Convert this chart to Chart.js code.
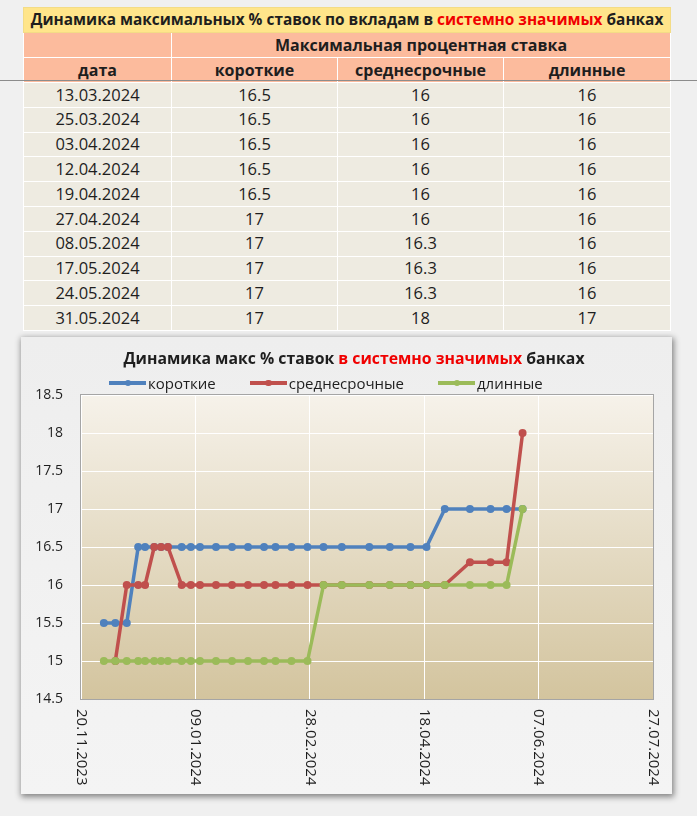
<!DOCTYPE html>
<html lang="ru">
<head>
<meta charset="utf-8">
<title>Динамика максимальных % ставок</title>
<script src="https://cdn.jsdelivr.net/npm/chart.js@4.4.1/dist/chart.umd.min.js"></script>
<style>
  html, body { margin: 0; padding: 0; }
  body { width: 697px; height: 816px; position: relative; overflow: hidden; background: #f0f0f0; font-family: "Open Sans", sans-serif; color: #1e1e1e; }
  #rates { position: absolute; left: 23px; top: 7px; width: 647px; border-collapse: collapse; table-layout: fixed; }
  #rates td { border: 1px solid #fff; padding: 0; text-align: center; white-space: nowrap; overflow: hidden; line-height: 1; }
  #rates tr.cap td { background: #ffe58a; height: 24px; font-weight: bold; font-size: 15.4px; border-color: #f3dc86; }
  #rates tr.head td { background: #fcbb9d; font-weight: bold; font-size: 16px; height: 24px; }
  #rates tr.body td { background: #eeebe1; font-size: 16.5px; height: 23.8px; }
  .red { color: #f00000; }
  #scanline { position: absolute; left: 0; top: 80px; width: 697px; height: 1px; background: #8c8c8c; }
  #frame { position: absolute; left: 21px; top: 337px; width: 651px; height: 457px; background: linear-gradient(#eeeeee, #f4f4f4); box-shadow: 1px 2px 6px 1px rgba(0,0,0,0.45); }
  #frame canvas { position: absolute; left: 0; top: 0; }
  #ctitle { position: absolute; left: 0; top: 10px; width: 666px; text-align: center; font-weight: bold; font-size: 15.8px; z-index: 2; }
  #legend { position: absolute; left: 88px; top: 36px; display: flex; gap: 34px; font-size: 15px; z-index: 2; }
  #legend .item { display: flex; align-items: center; }
  #legend .key { position: relative; width: 37px; height: 3.5px; margin-right: 2px; }
  #legend .key b { position: absolute; left: 15.5px; top: -1.5px; width: 6.5px; height: 6.5px; border-radius: 50%; background: inherit; }
</style>
</head>
<body>

<table id="rates">
  <colgroup><col style="width:148px"><col style="width:166px"><col style="width:166px"><col style="width:167px"></colgroup>
  <tr class="cap"><td colspan="4">Динамика максимальных % ставок по вкладам в <span class="red">системно значимых</span> банках</td></tr>
  <tr class="head"><td></td><td colspan="3">Максимальная процентная ставка</td></tr>
  <tr class="head"><td>дата</td><td>короткие</td><td>среднесрочные</td><td>длинные</td></tr>
</table>
<div id="scanline"></div>

<div id="frame">
  <div id="ctitle">Динамика макс % ставок <span class="red">в системно значимых</span> банках</div>
  <div id="legend"></div>
  <canvas id="chart" width="651" height="457"></canvas>
</div>

<script>
// observation dates (dd.mm.yyyy)
var dates = [
  '30.11.2023', '05.12.2023', '10.12.2023', '15.12.2023', '18.12.2023', '22.12.2023',
  '25.12.2023', '28.12.2023', '03.01.2024', '07.01.2024', '11.01.2024', '18.01.2024',
  '25.01.2024', '01.02.2024', '08.02.2024', '13.02.2024', '20.02.2024', '27.02.2024',
  '05.03.2024', '13.03.2024', '25.03.2024', '03.04.2024', '12.04.2024', '19.04.2024',
  '27.04.2024', '08.05.2024', '17.05.2024', '24.05.2024', '31.05.2024'
];
var shortRates = [15.5, 15.5, 15.5, 16.5, 16.5, 16.5, 16.5, 16.5, 16.5, 16.5, 16.5, 16.5, 16.5, 16.5, 16.5,
  16.5, 16.5, 16.5, 16.5, 16.5, 16.5, 16.5, 16.5, 16.5, 17, 17, 17, 17, 17];
var midRates = [null, 15, 16, 16, 16, 16.5, 16.5, 16.5, 16, 16, 16, 16, 16, 16, 16,
  16, 16, 16, 16, 16, 16, 16, 16, 16, 16, 16.3, 16.3, 16.3, 18];
var longRates = [15, 15, 15, 15, 15, 15, 15, 15, 15, 15, 15, 15, 15, 15, 15,
  15, 15, 15, 16, 16, 16, 16, 16, 16, 16, 16, 16, 16, 17];

var seriesNames = ['короткие', 'среднесрочные', 'длинные'];
var seriesColors = ['#4f81bd', '#c0504d', '#9bbb59'];

var xTicks = ['20.11.2023', '09.01.2024', '28.02.2024', '18.04.2024', '07.06.2024', '27.07.2024'];
var yMin = 14.5, yMax = 18.5, yStep = 0.5;

var tableRows = 10; // the table shows the last ten observations

function toDay(s) {
  var p = s.split('.');
  return Date.UTC(+p[2], +p[1] - 1, +p[0]) / 86400000;
}
function fmtDay(d) {
  var t = new Date(d * 86400000);
  var dd = ('0' + t.getUTCDate()).slice(-2), mm = ('0' + (t.getUTCMonth() + 1)).slice(-2);
  return dd + '.' + mm + '.' + t.getUTCFullYear();
}

// fill table
var tbl = document.getElementById('rates');
for (var i = dates.length - tableRows; i < dates.length; i++) {
  var tr = document.createElement('tr');
  tr.className = 'body';
  [dates[i], shortRates[i], midRates[i], longRates[i]].forEach(function(v) {
    var td = document.createElement('td');
    td.textContent = String(v);
    tr.appendChild(td);
  });
  tbl.appendChild(tr);
}

function points(values) {
  return dates.map(function(d, i) { return { x: toDay(d), y: values[i] }; });
}

var plotDecor = {
  id: 'plotDecor',
  beforeDraw: function(chart) {
    var a = chart.chartArea, ctx = chart.ctx;
    var g = ctx.createLinearGradient(0, a.top, 0, a.bottom);
    g.addColorStop(0, '#f6f2ea');
    g.addColorStop(1, '#d3c49e');
    ctx.save();
    ctx.fillStyle = g;
    ctx.fillRect(a.left, a.top, a.right - a.left, a.bottom - a.top);
    ctx.restore();
  },
  beforeDatasetsDraw: function(chart) {
    var a = chart.chartArea, ctx = chart.ctx;
    ctx.save();
    ctx.strokeStyle = '#a5a5a5';
    ctx.lineWidth = 1;
    ctx.strokeRect(a.left - 0.5, a.top - 0.5, a.right - a.left + 1, a.bottom - a.top + 1);
    ctx.restore();
  },
  afterDraw: function(chart) {
    // x labels read top-to-bottom like in Excel
    var ctx = chart.ctx, xs = chart.scales.x, a = chart.chartArea;
    ctx.save();
    ctx.font = '15px "Open Sans"';
    ctx.fillStyle = '#1e1e1e';
    ctx.textAlign = 'left';
    ctx.textBaseline = 'middle';
    xs.ticks.forEach(function(t) {
      ctx.save();
      ctx.translate(xs.getPixelForValue(t.value), a.bottom + 10);
      ctx.rotate(Math.PI / 2);
      ctx.fillText(fmtDay(t.value), 0, 0);
      ctx.restore();
    });
    ctx.restore();
  }
};

var allRates = [shortRates, midRates, longRates];
var datasets = allRates.map(function(vals, i) {
  return {
    label: seriesNames[i],
    data: points(vals),
    borderColor: seriesColors[i],
    backgroundColor: seriesColors[i],
    borderWidth: 3.5,
    pointRadius: 4,
    pointBorderWidth: 0,
    pointHoverRadius: 4,
    borderJoinStyle: 'round',
    tension: 0,
    order: 3 - i   // green on top, blue at the bottom
  };
});

var chart = new Chart(document.getElementById('chart').getContext('2d'), {
  type: 'line',
  data: { datasets: datasets },
  plugins: [plotDecor],
  options: {
    responsive: false,
    animation: false,
    layout: { padding: { top: 58, right: 19, left: 0, bottom: 0 } },
    plugins: { legend: { display: false }, title: { display: false }, tooltip: { enabled: false } },
    scales: {
      x: {
        type: 'linear',
        min: toDay(xTicks[0]),
        max: toDay(xTicks[xTicks.length - 1]),
        afterBuildTicks: function(s) { s.ticks = xTicks.map(function(t) { return { value: toDay(t) }; }); },
        afterFit: function(s) { s.height = 95; },
        ticks: { display: false },
        grid: { color: '#ffffff', lineWidth: 1, drawTicks: false },
        border: { display: false }
      },
      y: {
        min: yMin,
        max: yMax,
        afterFit: function(s) { s.width = 60; },
        ticks: {
          stepSize: yStep,
          padding: 18,
          color: '#1e1e1e',
          font: { family: '"Open Sans"', size: 14 },
          callback: function(v) { return String(v); }
        },
        grid: { color: '#ffffff', lineWidth: 1, drawTicks: false },
        border: { display: false }
      }
    }
  }
});

// legend in html
var legend = document.getElementById('legend');
chart.data.datasets.forEach(function(ds) {
  var item = document.createElement('span');
  item.className = 'item';
  var key = document.createElement('span');
  key.className = 'key';
  key.style.background = ds.borderColor;
  key.appendChild(document.createElement('b'));
  item.appendChild(key);
  item.appendChild(document.createTextNode(ds.label));
  legend.appendChild(item);
});
</script>
</body>
</html>
